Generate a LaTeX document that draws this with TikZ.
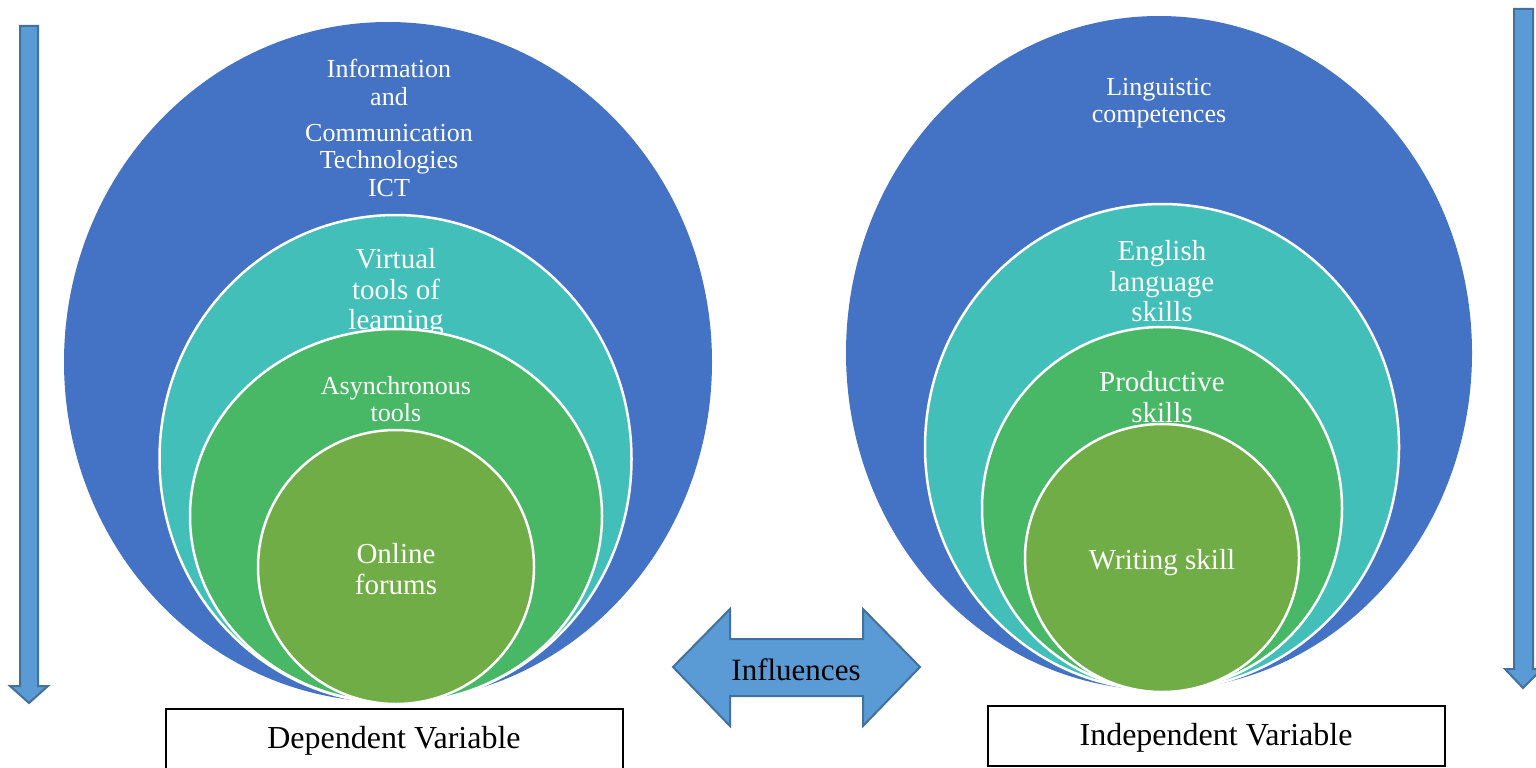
\documentclass[tikz,border=0pt]{standalone}
\usepackage{fontspec}
\setmainfont{Liberation Serif}
\usetikzlibrary{shapes.geometric}

\definecolor{ringblue}{HTML}{4472C4}
\definecolor{ringteal}{RGB}{67,191,185}
\definecolor{ringgreen}{RGB}{72,183,102}
\definecolor{ringolive}{HTML}{70AD47}
\definecolor{arrowfill}{HTML}{5B9BD5}
\definecolor{arrowedge}{HTML}{41719C}

\begin{document}
\begin{tikzpicture}[x=1pt,y=-1pt,
  disc/.style={ellipse, inner sep=0pt, outer sep=0pt, draw=white, line width=2.5pt},
  lbl/.style={text=white, align=center, inner sep=0pt},
  big/.style={font=\fontsize{29}{30.5}\selectfont},
  small/.style={font=\fontsize{26}{27.5}\selectfont},
  arrowshape/.style={fill=arrowfill, draw=arrowedge, line width=2pt, line join=miter},
  boxline/.style={draw=black, line width=1.2pt},
  boxtext/.style={font=\fontsize{32}{34}\selectfont, inner sep=0pt}]
\useasboundingbox (0,0) rectangle (1536,768);
\clip (0,0) rectangle (1536,768);

% ---- left set of nested circles
\node[disc, draw=none, fill=ringblue, minimum width=648pt, minimum height=680pt] (ictdisc) at (388,362) {};
\node[lbl, small] (ict) at (389,128) {Information\\and\\[8.5pt]Communication\\Technologies\\ICT};
\node[disc, fill=ringteal, minimum width=472pt, minimum height=488pt] (vtdisc) at (395.5,459) {};
\node[lbl, big] (vt) at (396,292.5) {Virtual\\tools of\\learning};
\node[disc, fill=ringgreen, minimum width=412pt, minimum height=374pt] (asdisc) at (396,516) {};
\node[lbl, small] (as) at (396,399) {Asynchronous\\tools};
\node[disc, fill=ringolive, minimum width=276pt, minimum height=274pt] (ofdisc) at (396,567) {};
\node[lbl, big] (of) at (396,569) {Online\\forums};

% ---- right set of nested circles
\node[disc, draw=none, fill=ringblue, minimum width=626pt, minimum height=674pt] (lcdisc) at (1159,353) {};
\node[lbl, small] (lc) at (1159,103) {Linguistic\\competences};
\node[disc, fill=ringteal, minimum width=474pt, minimum height=486pt] (eldisc) at (1162,447) {};
\node[lbl, big] (el) at (1162,281.5) {English\\language\\skills};
\node[disc, fill=ringgreen, minimum width=360pt, minimum height=363pt] (psdisc) at (1162,508.5) {};
\node[lbl, big] (ps) at (1162,397) {Productive\\skills};
\node[disc, fill=ringolive, minimum width=274pt, minimum height=268pt] (wsdisc) at (1162,558) {};
\node[lbl, big] (ws) at (1162,563) {Writing skill};

% ---- vertical arrows at both sides
\draw[arrowshape] (20,26) -- (38,26) -- (38,686) -- (48,686) -- (29,703)
  -- (10,686) -- (20,686) -- cycle;
\draw[arrowshape] (1514,9) -- (1533,9) -- (1533,669) -- (1542,669) -- (1523,688)
  -- (1505,669) -- (1514,669) -- cycle;

% ---- double arrow in the middle
\draw[arrowshape] (673,667) -- (730,609) -- (730,639) -- (863,639) -- (863,609)
  -- (920,667) -- (863,726) -- (863,696) -- (730,696) -- (730,726) -- cycle;
\node[font=\fontsize{31}{33}\selectfont, inner sep=0pt] (infl) at (796,670) {Influences};

% ---- variable boxes
\draw[boxline] (166,709) rectangle (623,800);
\node[boxtext] (dep) at (394,741) {Dependent Variable};
\node[boxline, minimum width=457pt, minimum height=60pt, inner sep=0pt] (indbox) at (1216.5,736) {};
\node[boxtext] (ind) at (1216,738) {Independent Variable};
\end{tikzpicture}
\end{document}
